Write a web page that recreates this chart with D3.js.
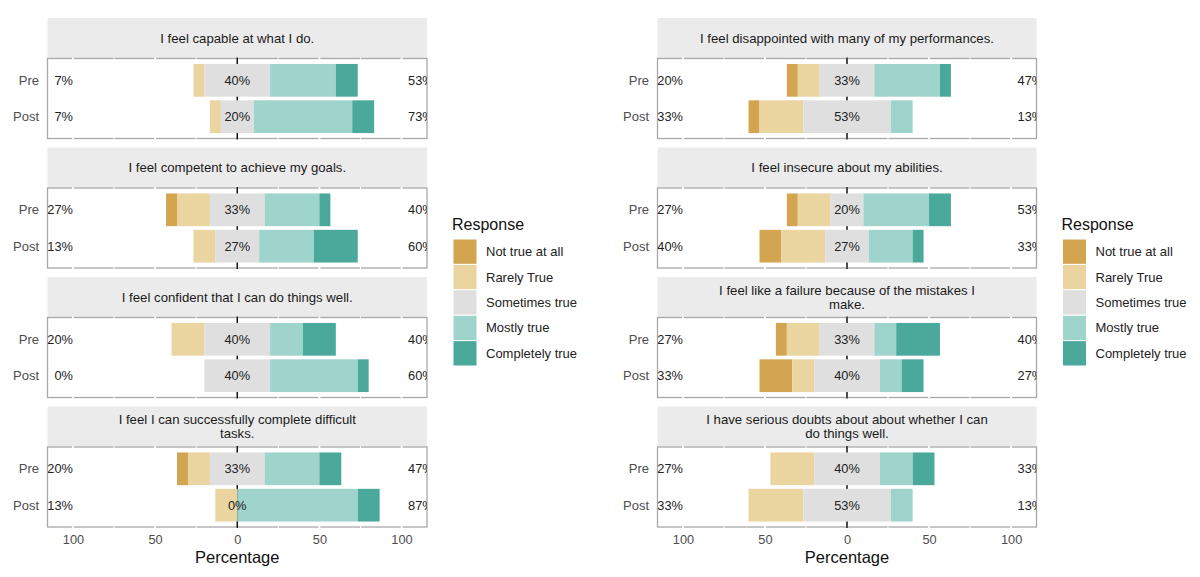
<!DOCTYPE html>
<html>
<head>
<meta charset="utf-8">
<script src="https://cdn.jsdelivr.net/npm/d3@7"></script>
<style>
	body { margin: 0; background: #fff; }
	text { font-family: "Liberation Sans", Arial, sans-serif; }
</style>
</head>
<body>
<svg id="chart" width="1200" height="577"></svg>
<script>
// response levels, low to high
const responses = ['Not true at all', 'Rarely True', 'Sometimes true', 'Mostly true', 'Completely true'];
const responseColors = ['#d3a550', '#ead4a0', '#dfdfdf', '#9ed4cb', '#4ba99b'];
const groups = ['Pre', 'Post'];
const xTicks = [-100, -50, 0, 50, 100];

// left chart: percent per response level, Pre and Post
const leftItems = [
	'I feel capable at what I do.',
	'I feel competent to achieve my goals.',
	'I feel confident that I can do things well.',
	'I feel I can successfully complete difficult\ntasks.'
];
const leftPre = [
	[0, 6.67, 40, 40, 13.33],
	[6.67, 20, 33.33, 33.33, 6.67],
	[0, 20, 40, 20, 20],
	[6.67, 13.33, 33.33, 33.33, 13.33]
];
const leftPost = [
	[0, 6.67, 20, 60, 13.33],
	[0, 13.33, 26.67, 33.33, 26.67],
	[0, 0, 40, 53.33, 6.67],
	[0, 13.33, 0, 73.33, 13.33]
];

// right chart
const rightItems = [
	'I feel disappointed with many of my performances.',
	'I feel insecure about my abilities.',
	'I feel like a failure because of the mistakes I\nmake.',
	'I have serious doubts about about whether I can\ndo things well.'
];
const rightPre = [
	[6.67, 13.33, 33.33, 40, 6.67],
	[6.67, 20, 20, 40, 13.33],
	[6.67, 20, 33.33, 13.33, 26.67],
	[0, 26.67, 40, 20, 13.33]
];
const rightPost = [
	[6.67, 26.67, 53.33, 13.33, 0],
	[13.33, 26.67, 26.67, 26.67, 6.67],
	[20, 13.33, 40, 13.33, 13.33],
	[0, 33.33, 53.33, 13.33, 0]
];

(() => {
	const svg = d3.select('#chart');
	const stripH = 40;

	// facet rows, strip + panel each
	const facetY = d3.scaleBand()
		.domain(d3.range(4))
		.range([18, 527])
		.paddingInner(0.0695)
		.paddingOuter(0);

	const color = d3.scaleOrdinal().domain(responses).range(responseColors);

	// turn one row of percents into diverging segments
	function segments(v) {
		const half = v[2] / 2;
		return [
			{k: 0, x0: -half - v[1] - v[0], x1: -half - v[1]},
			{k: 1, x0: -half - v[1], x1: -half},
			{k: 2, x0: -half, x1: half},
			{k: 3, x0: half, x1: half + v[3]},
			{k: 4, x0: half + v[3], x1: half + v[3] + v[4]}
		].filter(d => d.x1 - d.x0 > 0);
	}

	function drawChart(id, items, pre, post, left, right) {
		const x = d3.scaleLinear().domain([-115.5, 115.5]).range([left, right]);
		const g = svg.append('g').attr('class', id);

		items.forEach((item, i) => {
			const top = facetY(i);
			const pTop = top + stripH + 0.5;
			const pBot = top + facetY.bandwidth();
			const y = d3.scaleBand().domain(groups).range([pTop, pBot])
				.paddingInner(0.1).paddingOuter(0.15);

			// strip
			g.append('rect')
				.attr('x', left).attr('y', top)
				.attr('width', right - left).attr('height', stripH)
				.attr('fill', '#ebebeb');
			const lines = item.split('\n');
			g.append('text')
				.attr('x', (left + right) / 2)
				.attr('y', top + stripH / 2 + 4.7 - (lines.length - 1) * 7.2)
				.attr('text-anchor', 'middle')
				.attr('font-size', 13.2)
				.attr('fill', '#1a1a1a')
				.selectAll('tspan')
				.data(lines)
				.enter().append('tspan')
					.attr('x', (left + right) / 2)
					.attr('dy', (d, j) => j ? 14.4 : 0)
					.text(d => d);

			// panel background with grey outline
			g.append('rect')
				.attr('x', left).attr('y', pTop)
				.attr('width', right - left).attr('height', pBot - pTop)
				.attr('fill', '#fff')
				.attr('stroke', '#a8a8a8')
				.attr('stroke-width', 1.3);

			// white grid over the outline
			g.append('g').selectAll('line')
				.data(d3.range(-100, 101, 25))
				.enter().append('line')
					.attr('x1', d => x(d)).attr('x2', d => x(d))
					.attr('y1', pTop - 1).attr('y2', pBot + 1)
					.attr('stroke', '#fff')
					.attr('stroke-width', d => d % 50 === 0 ? 1.8 : 1);

			// zero line
			g.append('line')
				.attr('x1', x(0)).attr('x2', x(0))
				.attr('y1', pTop - 1).attr('y2', pBot + 1)
				.attr('stroke', '#111')
				.attr('stroke-width', 1.5);

			const rows = [pre[i], post[i]];

			rows.forEach((v, r) => {
				const grp = groups[r];
				g.append('g').selectAll('rect')
					.data(segments(v))
					.enter().append('rect')
						.attr('x', d => x(d.x0))
						.attr('width', d => x(d.x1) - x(d.x0))
						.attr('y', y(grp))
						.attr('height', y.bandwidth())
						.attr('fill', d => color(responses[d.k]));
			});

			// percent labels, clipped at the panel
			const clipId = `${id}-clip-${i}`;
			g.append('clipPath').attr('id', clipId)
				.append('rect')
					.attr('x', left).attr('y', pTop)
					.attr('width', right - left).attr('height', pBot - pTop);
			const lab = g.append('g').attr('clip-path', `url(#${clipId})`)
				.attr('font-size', 12.8).attr('fill', '#222');
			rows.forEach((v, r) => {
				const cy = y(groups[r]) + y.bandwidth() / 2 + 4.5;
				lab.append('text')
					.attr('x', x(-100)).attr('y', cy)
					.attr('text-anchor', 'end')
					.text(Math.round(v[0] + v[1]) + '%');
				lab.append('text')
					.attr('x', x(0)).attr('y', cy)
					.attr('text-anchor', 'middle')
					.text(Math.round(v[2]) + '%');
				lab.append('text')
					.attr('x', x(100) + 6.5).attr('y', cy)
					.attr('text-anchor', 'start')
					.text(Math.round(v[3] + v[4]) + '%');
			});

			// Pre / Post labels
			g.append('g').selectAll('text')
				.data(groups)
				.enter().append('text')
					.attr('x', left - 8.5)
					.attr('y', d => y(d) + y.bandwidth() / 2 + 4.5)
					.attr('text-anchor', 'end')
					.attr('font-size', 13)
					.attr('fill', '#4d4d4d')
					.text(d => d);
		});

		// bottom axis
		const axis = g.append('g')
			.attr('transform', `translate(0,${facetY(3) + facetY.bandwidth()})`)
			.call(d3.axisBottom(x).tickValues(xTicks).tickSize(0).tickPadding(8)
				.tickFormat(d => Math.abs(d)));
		axis.select('.domain').remove();
		axis.selectAll('text')
			.attr('font-size', 12.8)
			.attr('fill', '#4d4d4d')
			.attr('font-family', '"Liberation Sans", Arial, sans-serif');

		g.append('text')
			.attr('x', x(0)).attr('y', 563)
			.attr('text-anchor', 'middle')
			.attr('font-size', 16.5)
			.attr('fill', '#111')
			.text('Percentage');

		// legend
		const lx = right + 26;
		const key = d3.scaleBand().domain(responses).range([239, 366]);
		g.append('text')
			.attr('x', lx - 1).attr('y', 230)
			.attr('font-size', 16)
			.attr('fill', '#111')
			.text('Response');
		const items2 = g.append('g').selectAll('g')
			.data(responses)
			.enter().append('g');
		items2.append('rect')
			.attr('x', lx).attr('y', d => key(d))
			.attr('width', 24).attr('height', key.bandwidth())
			.attr('fill', d => color(d))
			.attr('stroke', '#fff')
			.attr('stroke-width', 1);
		items2.append('text')
			.attr('x', lx + 33)
			.attr('y', d => key(d) + key.bandwidth() / 2 + 4.5)
			.attr('font-size', 13)
			.attr('fill', '#222')
			.text(d => d);
	}

	drawChart('left', leftItems, leftPre, leftPost, 47.5, 427);
	drawChart('right', rightItems, rightPre, rightPost, 657.5, 1036.5);
})();
</script>
</body>
</html>
